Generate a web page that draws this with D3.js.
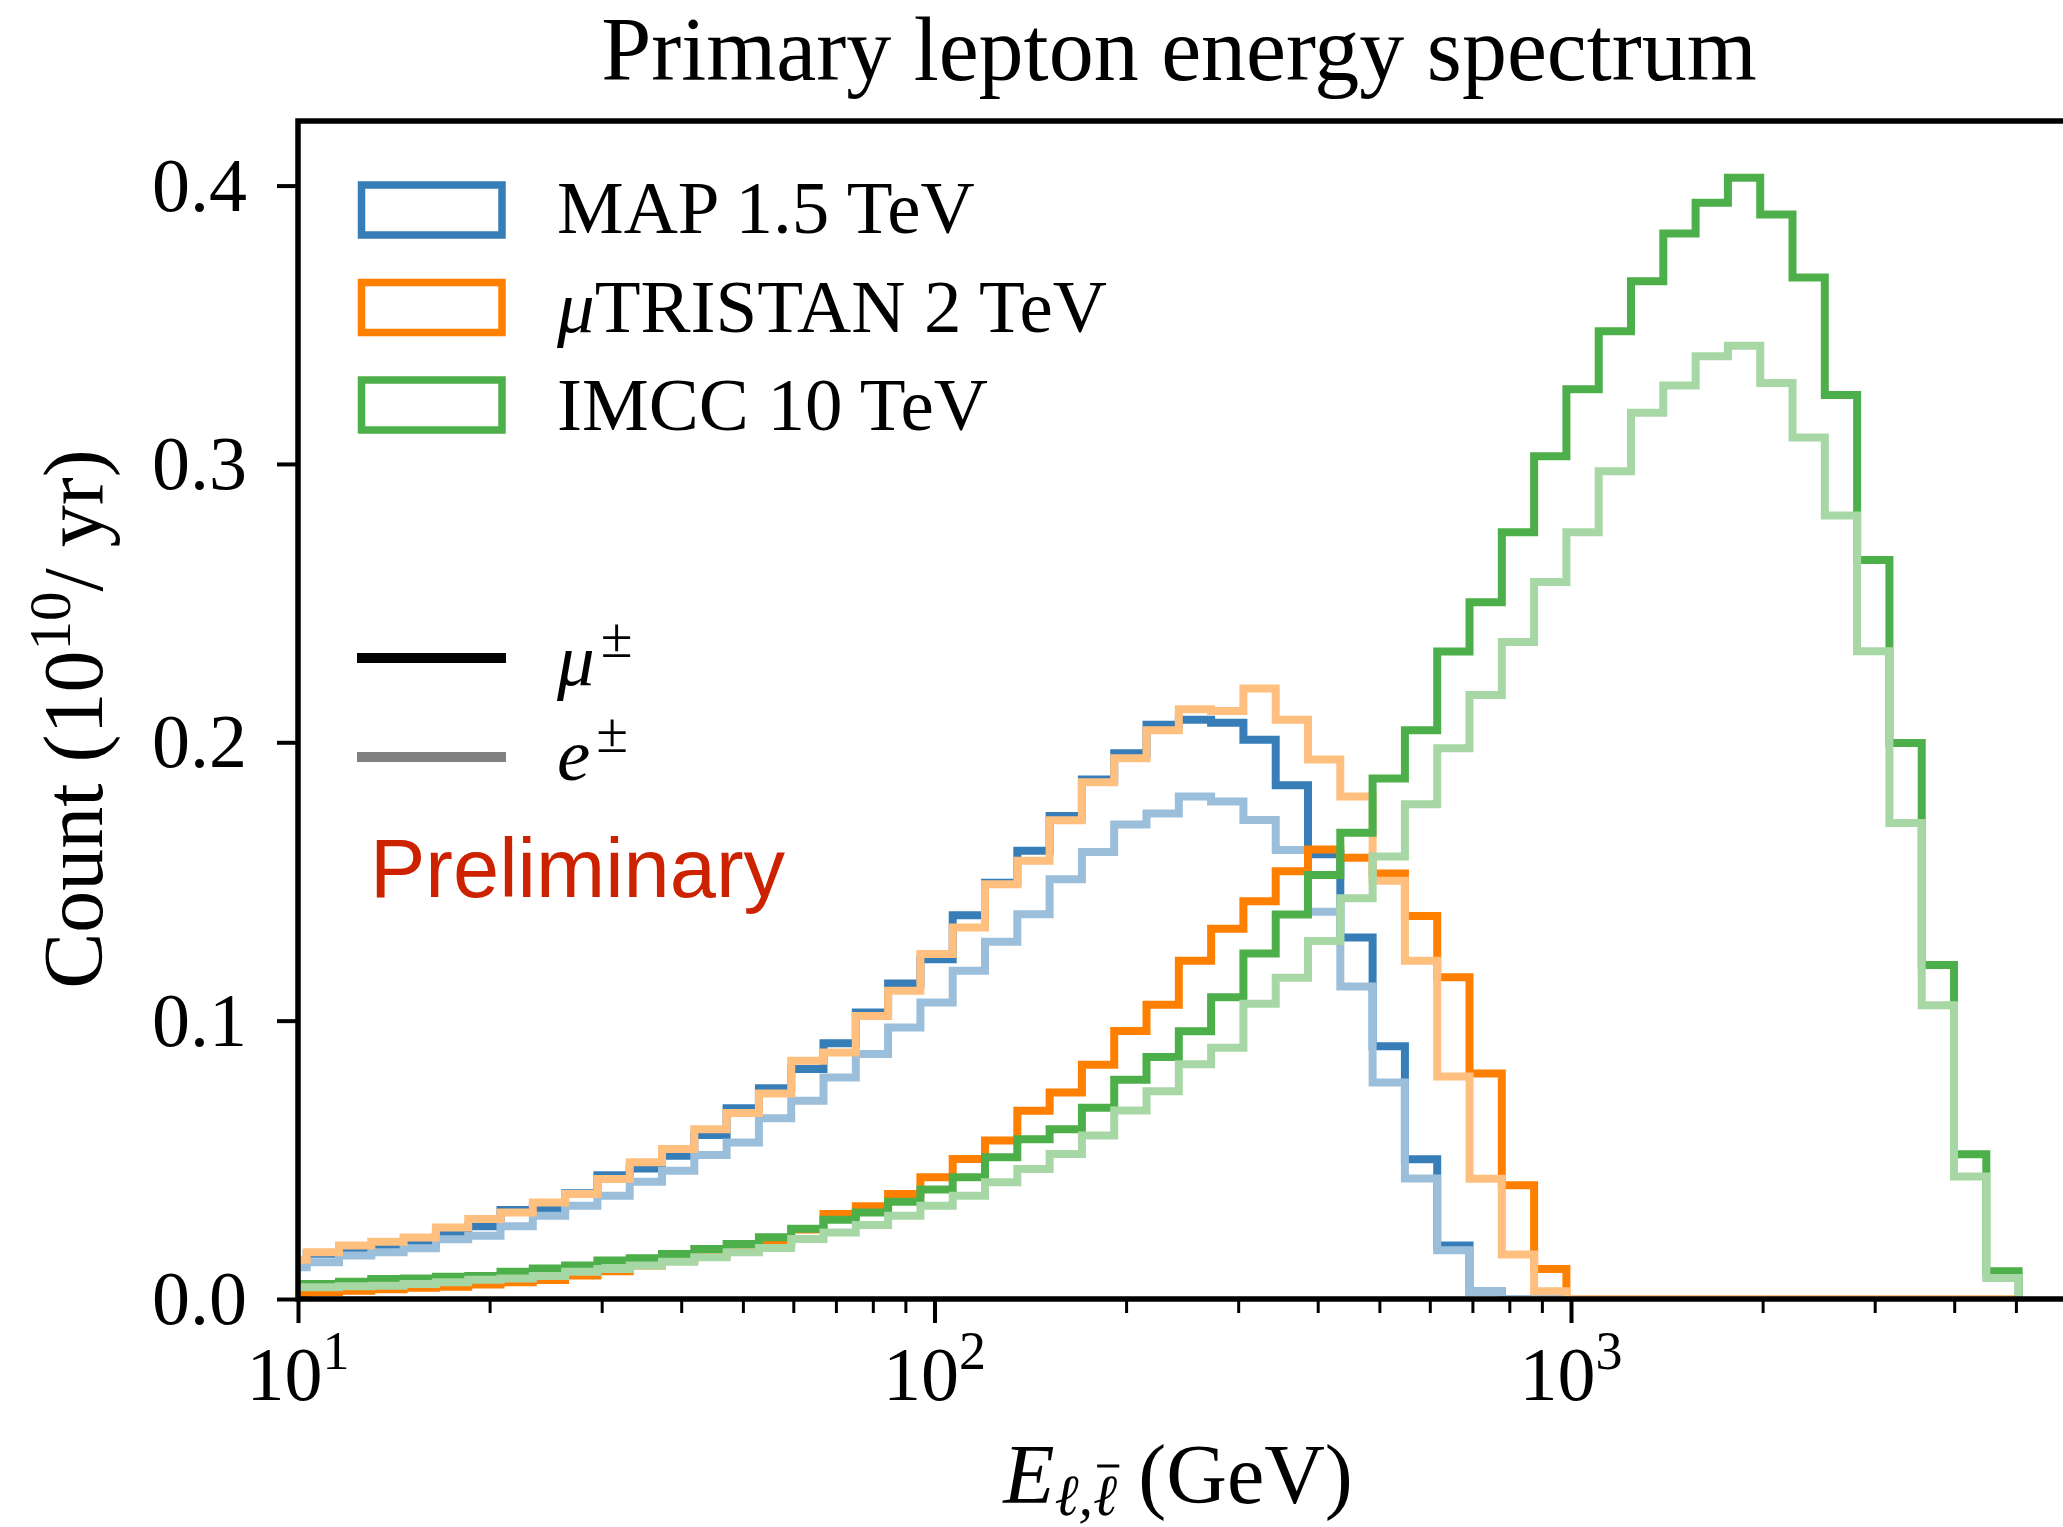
<!DOCTYPE html>
<html>
<meta charset="utf-8">
<title>Primary lepton energy spectrum</title>
<style>
html,body{margin:0;background:#fff;}
svg{display:block;background:#fff;}
text{font-family:"Liberation Serif","Times New Roman",serif;fill:#000;}
</style>
<script src="https://d3js.org/d3.v7.min.js"></script>
<body>
<script>

// log-spaced bins: log10 of first edge, log10 width, number of bins
var binLog0 = 0.96292, binLogWidth = 0.050747, nBins = 54;

// counts per bin (10^10 / yr)
var mapMu = [0.0140, 0.0163, 0.0168, 0.0183, 0.0198, 0.0233, 0.0261, 0.0320, 0.0325, 0.0380,
  0.0445, 0.0469, 0.0515, 0.0589, 0.0685, 0.0757, 0.0826, 0.0919, 0.1029, 0.1133,
  0.1221, 0.1379, 0.1495, 0.1610, 0.1735, 0.1866, 0.1961, 0.2063, 0.2081, 0.2070,
  0.2009, 0.1846, 0.1598, 0.1299, 0.0908, 0.0502, 0.0192, 0.0027, 0, 0,
  0, 0, 0, 0, 0, 0, 0, 0, 0, 0, 0, 0, 0, 0];
var mapE = [0.0114, 0.0132, 0.0156, 0.0168, 0.0182, 0.0215, 0.0227, 0.0261, 0.0299, 0.0335,
  0.0371, 0.0421, 0.0461, 0.0517, 0.0562, 0.0649, 0.0712, 0.0796, 0.0880, 0.0975,
  0.1065, 0.1179, 0.1283, 0.1382, 0.1508, 0.1606, 0.1705, 0.1744, 0.1805, 0.1787,
  0.1721, 0.1613, 0.1391, 0.1123, 0.0778, 0.0433, 0.0175, 0.0025, 0, 0,
  0, 0, 0, 0, 0, 0, 0, 0, 0, 0, 0, 0, 0, 0];
var triMu = [0.0018, 0.0024, 0.0030, 0.0035, 0.0040, 0.0044, 0.0052, 0.0060, 0.0068, 0.0084,
  0.0100, 0.0120, 0.0140, 0.0160, 0.0180, 0.0199, 0.0250, 0.0305, 0.0333, 0.0377,
  0.0437, 0.0503, 0.0569, 0.0676, 0.0742, 0.0842, 0.0963, 0.1057, 0.1215, 0.1330,
  0.1429, 0.1537, 0.1615, 0.1585, 0.1529, 0.1376, 0.1156, 0.0810, 0.0409, 0.0108,
  0, 0, 0, 0, 0, 0, 0, 0, 0, 0, 0, 0, 0, 0];
var triE = [0.0141, 0.0168, 0.0192, 0.0206, 0.0221, 0.0257, 0.0287, 0.0311, 0.0347, 0.0377,
  0.0431, 0.0491, 0.0539, 0.0610, 0.0668, 0.0738, 0.0856, 0.0886, 0.1017, 0.1107,
  0.1239, 0.1335, 0.1490, 0.1574, 0.1720, 0.1856, 0.1943, 0.2043, 0.2119, 0.2112,
  0.2193, 0.2081, 0.1938, 0.1805, 0.1503, 0.1215, 0.0799, 0.0432, 0.0160, 0.0028,
  0, 0, 0, 0, 0, 0, 0, 0, 0, 0, 0, 0, 0, 0];
var imccMu = [0.0054, 0.0054, 0.0062, 0.0072, 0.0074, 0.0080, 0.0083, 0.0098, 0.0110, 0.0120,
  0.0138, 0.0146, 0.0162, 0.0180, 0.0198, 0.0222, 0.0252, 0.0285, 0.0311, 0.0349,
  0.0393, 0.0437, 0.0509, 0.0574, 0.0610, 0.0687, 0.0788, 0.0869, 0.0962, 0.1084,
  0.1241, 0.1381, 0.1523, 0.1675, 0.1870, 0.2043, 0.2326, 0.2503, 0.2755, 0.3028,
  0.3268, 0.3477, 0.3656, 0.3828, 0.3938, 0.4028, 0.3896, 0.3670, 0.3248, 0.2655,
  0.1997, 0.1200, 0.0520, 0.0100];
var imccE = [0.0042, 0.0042, 0.0046, 0.0048, 0.0054, 0.0060, 0.0069, 0.0074, 0.0083, 0.0098,
  0.0108, 0.0120, 0.0134, 0.0150, 0.0168, 0.0183, 0.0216, 0.0239, 0.0266, 0.0299,
  0.0335, 0.0371, 0.0419, 0.0467, 0.0521, 0.0587, 0.0677, 0.0746, 0.0843, 0.0903,
  0.1061, 0.1154, 0.1286, 0.1440, 0.1590, 0.1777, 0.1979, 0.2170, 0.2360, 0.2576,
  0.2755, 0.2974, 0.3184, 0.3282, 0.3387, 0.3425, 0.3291, 0.3095, 0.2815, 0.2327,
  0.1710, 0.1055, 0.0440, 0.0075];

var colliders = ["MAP 1.5 TeV", "TRISTAN 2 TeV", "IMCC 10 TeV"];
var darkColors = ["#377eb8", "#ff7f00", "#4daf4a"];
var lightColors = ["#9bbedb", "#ffbf7f", "#a6d7a4"];
var yTicks = [0, 0.1, 0.2, 0.3, 0.4];
var xTicks = [10, 100, 1000];

var series = [
  {vals: mapMu, color: darkColors[0]},
  {vals: mapE, color: lightColors[0]},
  {vals: triMu, color: darkColors[1]},
  {vals: triE, color: lightColors[1]},
  {vals: imccMu, color: darkColors[2]},
  {vals: imccE, color: lightColors[2]}
];

var width = 2063, height = 1527;
var plotLeft = 298, plotTop = 121, plotBottom = 1299;
var decadePx = 636.5, xMax = 6130;

var x = d3.scaleLog()
    .domain([10, xMax])
    .range([plotLeft, plotLeft + decadePx * Math.log10(xMax / 10)]);
var y = d3.scaleLinear()
    .domain([0, 0.4232])
    .range([plotBottom, plotTop]);
var plotRight = x.range()[1];

var svg = d3.select("body").append("svg")
    .attr("width", width)
    .attr("height", height);

svg.append("defs").append("clipPath")
    .attr("id", "plotclip")
  .append("rect")
    .attr("x", plotLeft)
    .attr("y", plotTop)
    .attr("width", plotRight - plotLeft)
    .attr("height", plotBottom - plotTop);

var edges = d3.range(nBins + 1).map(function(i) {
  return Math.pow(10, binLog0 + i * binLogWidth);
});

function stepPoints(vals) {
  var pts = [[edges[0], 0]];
  vals.forEach(function(v, i) {
    pts.push([edges[i], v]);
    pts.push([edges[i + 1], v]);
  });
  pts.push([edges[vals.length], 0]);
  return pts;
}

var line = d3.line()
    .x(function(d) { return x(d[0]); })
    .y(function(d) { return y(d[1]); });

svg.append("g")
    .attr("clip-path", "url(#plotclip)")
  .selectAll("path")
    .data(series)
  .enter().append("path")
    .attr("d", function(d) { return line(stepPoints(d.vals)); })
    .attr("fill", "none")
    .attr("stroke", function(d) { return d.color; })
    .attr("stroke-width", 8)
    .attr("stroke-linejoin", "miter");

// ticks
var minorTicks = x.ticks().filter(function(t) {
  var l = Math.log10(t);
  return Math.abs(l - Math.round(l)) > 1e-6 && x(t) < width;
});

svg.append("g")
    .attr("transform", "translate(0," + plotBottom + ")")
    .call(d3.axisBottom(x).tickValues(minorTicks).tickSize(14).tickFormat(""))
    .call(function(g) { g.select(".domain").remove(); })
    .selectAll("line").attr("stroke-width", 3);

svg.append("g")
    .attr("transform", "translate(0," + plotBottom + ")")
    .call(d3.axisBottom(x).tickValues(xTicks).tickSize(24).tickFormat(""))
    .call(function(g) { g.select(".domain").remove(); })
    .selectAll("line").attr("stroke-width", 4);

svg.append("g")
    .attr("transform", "translate(" + plotLeft + ",0)")
    .call(d3.axisLeft(y).tickValues(yTicks).tickSize(21).tickFormat(""))
    .call(function(g) { g.select(".domain").remove(); })
    .selectAll("line").attr("stroke-width", 4);

// spines
svg.append("path")
    .attr("d", "M" + (plotRight + 10) + "," + plotTop + "H" + plotLeft + "V" + plotBottom + "H" + (plotRight + 10))
    .attr("fill", "none")
    .attr("stroke", "#000")
    .attr("stroke-width", 5.5)
    .attr("stroke-linejoin", "miter");

// tick labels
var xl = svg.append("g").selectAll("text")
    .data(xTicks)
  .enter().append("text")
    .attr("x", function(d) { return x(d); })
    .attr("y", 1400)
    .attr("text-anchor", "middle")
    .style("font-size", "76px");
xl.append("tspan").text("10");
xl.append("tspan")
    .attr("dy", -31)
    .style("font-size", "54px")
    .text(function(d) { return Math.round(Math.log10(d)); });

svg.append("g").selectAll("text")
    .data(yTicks)
  .enter().append("text")
    .attr("x", 247)
    .attr("y", function(d) { return y(d) + 25; })
    .attr("text-anchor", "end")
    .style("font-size", "76px")
    .text(function(d) { return d.toFixed(1); });

// title and axis labels
svg.append("text")
    .attr("x", 1179)
    .attr("y", 80)
    .attr("text-anchor", "middle")
    .style("font-size", "90px")
    .text("Primary lepton energy spectrum");

var yl = svg.append("text")
    .attr("transform", "translate(102,719) rotate(-90)")
    .attr("text-anchor", "middle")
    .style("font-size", "84px");
yl.append("tspan").text("Count (10");
yl.append("tspan").attr("dy", -32).style("font-size", "59px").text("10");
yl.append("tspan").attr("dy", 32).text("/ yr)");

var xlab = svg.append("text")
    .attr("x", 1178)
    .attr("y", 1503)
    .attr("text-anchor", "middle")
    .style("font-size", "84px");
xlab.append("tspan").style("font-style", "italic").text("E");
xlab.append("tspan").attr("dy", 12).style("font-style", "italic").style("font-size", "58px").text("ℓ,ℓ");
xlab.append("tspan").attr("dy", -12).text(" (GeV)");
var bar = xlab.node().getExtentOfChar(3);
svg.append("line")
    .attr("x1", bar.x + 4)
    .attr("x2", bar.x + bar.width + 2)
    .attr("y1", 1466)
    .attr("y2", 1466)
    .attr("stroke", "#000")
    .attr("stroke-width", 3);

// legend
var leg = svg.append("g");
leg.selectAll("rect")
    .data(colliders)
  .enter().append("rect")
    .attr("x", 361.5)
    .attr("y", function(d, i) { return 185 + i * 97.5; })
    .attr("width", 140.5)
    .attr("height", 50)
    .attr("fill", "none")
    .attr("stroke", function(d, i) { return darkColors[i]; })
    .attr("stroke-width", 7.5);

var lt = leg.selectAll("text.coll")
    .data(colliders)
  .enter().append("text")
    .attr("class", "coll")
    .attr("x", 557)
    .attr("y", function(d, i) { return 233 + i * 98.5; })
    .style("font-size", "75px");
lt.filter(function(d, i) { return i === 1; })
  .append("tspan").style("font-style", "italic").text("μ");
lt.append("tspan").text(function(d) { return d; });

var particles = [{sym: "μ", color: "#000", y: 658, ty: 685}, {sym: "e", color: "#808080", y: 757, ty: 780}];
leg.selectAll("line")
    .data(particles)
  .enter().append("line")
    .attr("x1", 357)
    .attr("x2", 506)
    .attr("y1", function(d) { return d.y; })
    .attr("y2", function(d) { return d.y; })
    .attr("stroke", function(d) { return d.color; })
    .attr("stroke-width", 10);

var pt = leg.selectAll("text.part")
    .data(particles)
  .enter().append("text")
    .attr("class", "part")
    .attr("x", 557)
    .attr("y", function(d) { return d.ty; })
    .style("font-size", "75px");
pt.append("tspan").style("font-style", "italic").text(function(d) { return d.sym; });
pt.append("tspan").attr("dx", 6).attr("dy", -28).style("font-size", "58px").text("±");

svg.append("text")
    .attr("x", 370)
    .attr("y", 897)
    .style("font-family", "'Liberation Sans', Arial, sans-serif")
    .style("font-size", "83px")
    .style("fill", "#cc2200")
    .text("Preliminary");

</script>
</body>
</html>
